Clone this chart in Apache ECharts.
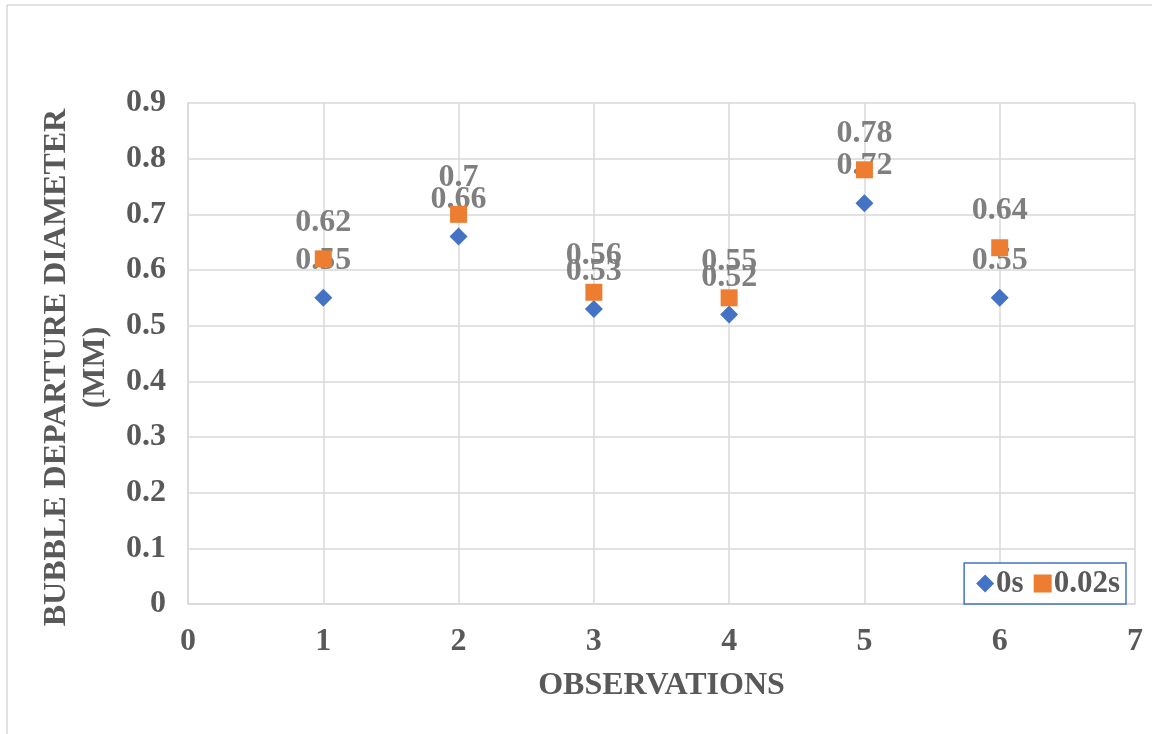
<!DOCTYPE html>
<html>
<head>
<meta charset="utf-8">
<title>Bubble departure diameter</title>
<script src="https://cdn.jsdelivr.net/npm/echarts@6/dist/echarts.min.js"></script>
<style>
  html, body { margin: 0; padding: 0; background: #ffffff; }
  #chart { width: 1161px; height: 734px; }
</style>
</head>
<body>
<div id="chart"></div>
<script>
// Observation numbers and measured departure diameters (mm)
const observations = [1, 2, 3, 4, 5, 6];
const series0s = [0.55, 0.66, 0.53, 0.52, 0.72, 0.55];
const series002s = [0.62, 0.70, 0.56, 0.55, 0.78, 0.64];
const seriesNames = ['0s', '0.02s'];

const FONT = '"Liberation Serif", "Times New Roman", serif';
const GRID = '#d9d9d9';
const FS = 32;

const chart = echarts.init(document.getElementById('chart'), null, { renderer: 'canvas' });

const pairs = (ys) => observations.map((x, i) => [x, ys[i]]);

const labelStyle = {
  show: true,
  position: 'top',
  distance: 12,
  color: '#7f7f7f',
  fontFamily: FONT,
  fontWeight: 'bold',
  fontSize: FS,
  formatter: (p) => String(p.value[1])
};

chart.setOption({
  animation: false,
  backgroundColor: '#ffffff',
  graphic: [
    { type: 'line', shape: { x1: 7, y1: 5, x2: 1152, y2: 5 }, style: { stroke: GRID, lineWidth: 1.5 } },
    { type: 'line', shape: { x1: 7, y1: 5, x2: 7, y2: 734 }, style: { stroke: GRID, lineWidth: 1.5 } }
  ],
  grid: { left: 188, right: 26, top: 103, bottom: 130, containLabel: false },
  legend: {
    right: 35,
    bottom: 130,
    orient: 'horizontal',
    backgroundColor: '#ffffff',
    borderColor: '#4472c4',
    borderWidth: 1.5,
    borderRadius: 0,
    padding: [5, 6, 5, 12],
    itemGap: 10,
    itemWidth: 18,
    itemHeight: 18,
    textStyle: { color: '#595959', fontFamily: FONT, fontWeight: 'bold', fontSize: 31, padding: [0, 0, 0, -3] },
    data: [
      { name: seriesNames[0], icon: 'diamond' },
      { name: seriesNames[1], icon: 'rect' }
    ]
  },
  xAxis: {
    type: 'value',
    min: 0,
    max: 7,
    interval: 1,
    name: 'OBSERVATIONS',
    nameLocation: 'middle',
    nameGap: 66,
    nameTextStyle: { color: '#595959', fontFamily: FONT, fontWeight: 'bold', fontSize: FS },
    axisLine: { show: true, lineStyle: { color: GRID, width: 1.5 } },
    axisTick: { show: false },
    axisLabel: { color: '#595959', fontFamily: FONT, fontWeight: 'bold', fontSize: FS, margin: 22 },
    splitLine: { show: true, lineStyle: { color: GRID, width: 1.5 } }
  },
  yAxis: {
    type: 'value',
    min: 0,
    max: 0.9,
    interval: 0.1,
    name: 'BUBBLE DEPARTURE DIAMETER\n(MM)',
    nameLocation: 'middle',
    nameGap: 70,
    nameTextStyle: {
      color: '#595959', fontFamily: FONT, fontWeight: 'bold', fontSize: FS, lineHeight: 39, align: 'center',
      padding: [0, 28, 0, 0]
    },
    axisLine: { show: true, lineStyle: { color: GRID, width: 1.5 } },
    axisTick: { show: false },
    axisLabel: {
      color: '#595959', fontFamily: FONT, fontWeight: 'bold', fontSize: FS, margin: 22,
      formatter: (v) => String(Math.round(v * 10) / 10)
    },
    splitLine: { show: true, lineStyle: { color: GRID, width: 1.5 } }
  },
  series: [
    {
      name: seriesNames[0],
      type: 'scatter',
      symbol: 'diamond',
      symbolSize: 18,
      itemStyle: { color: '#4472c4', opacity: 1 },
      label: labelStyle,
      data: pairs(series0s),
      z: 3
    },
    {
      name: seriesNames[1],
      type: 'scatter',
      symbol: 'rect',
      symbolSize: 17,
      itemStyle: { color: '#ed7d31', opacity: 1 },
      label: labelStyle,
      data: pairs(series002s),
      z: 4
    }
  ]
});
</script>
</body>
</html>
